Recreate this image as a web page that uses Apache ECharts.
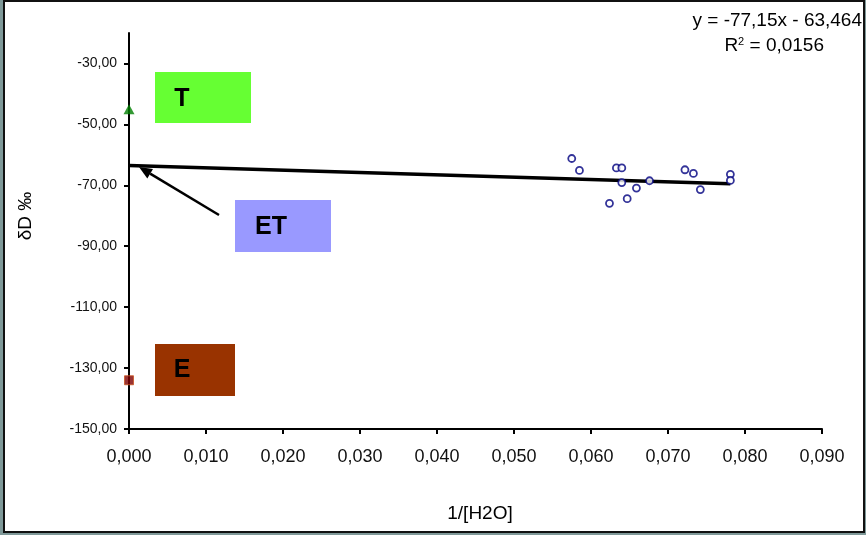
<!DOCTYPE html>
<html><head><meta charset="utf-8">
<script src="https://cdn.jsdelivr.net/npm/echarts@6/dist/echarts.min.js"></script>
<style>
html,body{margin:0;padding:0;width:866px;height:535px;background:#7f9999;overflow:hidden;}
#frame{position:absolute;left:3px;top:0px;width:858px;height:529px;border:2px solid #111;background:#fff;}
#chart{position:absolute;left:0;top:0;width:866px;height:535px;}
</style></head>
<body>
<div id="frame"></div>
<div id="chart"></div>
<script>
// Data
const samplesX = [0.0575,0.0585,0.0633,0.0640,0.0640,0.0659,0.0676,0.0647,0.0624,0.0722,0.0733,0.0742,0.0781,0.0781];
const samplesY = [-61.2,-65.1,-64.3,-64.3,-69.1,-70.9,-68.5,-74.4,-75.9,-64.9,-66.1,-71.4,-66.4,-68.4];
const trendX = [0, 0.0781];
const trendY = [-63.46, -69.49];
const tPoint = [0, -45];
const ePoint = [0, -134];
const equationText = 'y = -77,15x - 63,464';
const r2Text = '0,0156';

const chart = echarts.init(document.getElementById('chart'));
const samples = samplesX.map((x,i)=>[x, samplesY[i]]);
const trend = trendX.map((x,i)=>[x, trendY[i]]);

// arrow geometry (annotation)
const tip=[139,167], tail=[219,215];
const dx=tip[0]-tail[0], dy=tip[1]-tail[1], L=Math.hypot(dx,dy), ux=dx/L, uy=dy/L;
const hl=13, hw=5.5;
const base=[tip[0]-ux*hl, tip[1]-uy*hl];
const p1=[base[0]-uy*hw, base[1]+ux*hw], p2=[base[0]+uy*hw, base[1]-ux*hw];
const FF='Liberation Sans, Arial';

chart.setOption({
  animation:false,
  grid:{left:129,right:44,top:33,bottom:106},
  xAxis:{type:'value',min:0,max:0.09,interval:0.01,
    axisLine:{lineStyle:{color:'#000',width:2}},
    axisTick:{show:true,length:5,lineStyle:{color:'#000',width:2}},
    splitLine:{show:false},
    axisLabel:{color:'#111',fontSize:18,fontFamily:FF,margin:19,
      formatter:v=>v.toFixed(3).replace('.',',')}},
  yAxis:{type:'value',min:-150,max:-20,interval:20,
    axisLine:{onZero:false,lineStyle:{color:'#000',width:2}},
    axisTick:{show:true,length:5,lineStyle:{color:'#000',width:2},interval:(i,v)=>v!==-20},
    splitLine:{show:false},
    axisLabel:{color:'#111',fontSize:14,fontFamily:FF,margin:12,showMaxLabel:false,
      formatter:v=>v===-20?'':v.toFixed(2).replace('.',',')}},
  series:[
    {type:'line',data:trend,symbol:'none',lineStyle:{color:'#000',width:3.5},z:2},
    {type:'scatter',data:samples,symbol:'circle',symbolSize:7,
      itemStyle:{color:'#fff',borderColor:'#000080',borderWidth:1.8},z:3},
    {type:'scatter',data:[tPoint],symbol:'triangle',symbolSize:[11,10],itemStyle:{color:'#008000'},z:4},
    {type:'scatter',data:[ePoint],symbol:'rect',symbolSize:9,itemStyle:{color:'#800000',borderColor:'#cc5522',borderWidth:1},z:4}
  ],
  graphic:[
    {type:'rect',shape:{x:155,y:72,width:96,height:51},style:{fill:'#66ff33'},z:10},
    {type:'text',x:182,y:99,style:{text:'T',fontSize:25,fontWeight:'bold',fontFamily:FF,fill:'#000',textAlign:'center',textVerticalAlign:'middle'},z:11},
    {type:'rect',shape:{x:235,y:200,width:96,height:52},style:{fill:'#9999ff'},z:10},
    {type:'text',x:271,y:227,style:{text:'ET',fontSize:25,fontWeight:'bold',fontFamily:FF,fill:'#000',textAlign:'center',textVerticalAlign:'middle'},z:11},
    {type:'rect',shape:{x:155,y:344,width:80,height:52},style:{fill:'#993300'},z:10},
    {type:'text',x:182,y:370,style:{text:'E',fontSize:25,fontWeight:'bold',fontFamily:FF,fill:'#000',textAlign:'center',textVerticalAlign:'middle'},z:11},
    {type:'line',shape:{x1:tail[0],y1:tail[1],x2:base[0],y2:base[1]},style:{stroke:'#000',lineWidth:2.5},z:11},
    {type:'polygon',shape:{points:[tip,p1,p2]},style:{fill:'#000'},z:11},
    {type:'text',x:862,y:21,style:{text:equationText,fontSize:19,fontFamily:FF,fill:'#000',textAlign:'right',textVerticalAlign:'middle'},z:11},
    {type:'text',x:824,y:46,style:{rich:{a:{fontSize:19,fontFamily:FF,fill:'#000'},s:{fontSize:11,fontFamily:FF,fill:'#000',verticalAlign:'top',padding:[0,0,9,0]}},
      text:'{a|R}{s|2}{a| = '+r2Text+'}',textAlign:'right',textVerticalAlign:'middle'},z:11},
    {type:'text',x:26,y:216,rotation:Math.PI/2,style:{text:'δD ‰',fontSize:19,fontFamily:FF,fill:'#000',textAlign:'center',textVerticalAlign:'middle'},z:11},
    {type:'text',x:480,y:514,style:{text:'1/[H2O]',fontSize:19,fontFamily:FF,fill:'#000',textAlign:'center',textVerticalAlign:'middle'},z:11}
  ]
});
</script>
</body></html>
